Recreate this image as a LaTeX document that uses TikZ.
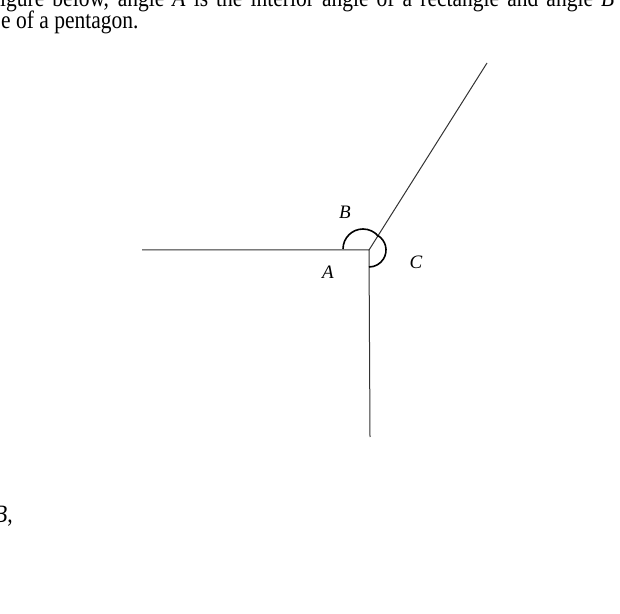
\documentclass[tikz,border=0pt]{standalone}
\usepackage{fontspec}
\setmainfont{Liberation Serif}
\usepackage{tikz}
\usetikzlibrary{calc}

\begin{document}
\begin{tikzpicture}[x=1pt, y=1pt]
        \useasboundingbox (0,0) rectangle (620,613);
        \clip (0,0) rectangle (620,613);

        \node[anchor=base west, inner sep=0pt, font=\fontsize{25}{28}\selectfont] (line1) at (0,606) {\scalebox{0.86}[1]{\makebox[714pt][s]{igure below, angle \textit{A} is the interior angle of a rectangle and angle \textit{B}}}};
        \node[anchor=base west, inner sep=0pt, font=\fontsize{25}{28}\selectfont] (line2) at (1,584) {\scalebox{0.86}[1]{e of a pentagon.}};
        \node[anchor=base west, inner sep=0pt, font=\fontsize{25}{28}\selectfont] (tail) at (-6,91) {\scalebox{0.86}[1]{\textit{B},}};

        \coordinate (vertex) at (369,363);
        \coordinate (left) at (142,363);
        \coordinate (down) at (370,176);
        \coordinate (up) at (487,550);

        \draw[line width=1pt, black!80] (left) -- (vertex) -- (down);
        \draw[line width=1pt, black!80] (vertex) -- (up);

        \draw[line width=1.6pt] (343,364) arc[start angle=180, end angle=38, radius=20];
        \draw[line width=1.6pt] ($(vertex)+(58:17)$) arc[start angle=58, end angle=-90, radius=17];

        \node[font=\fontsize{19}{22}\selectfont\itshape] (labB) at (345,401) {B};
        \node[font=\fontsize{19}{22}\selectfont\itshape] (labA) at (328,341) {A};
        \node[font=\fontsize{19}{22}\selectfont\itshape] (labC) at (416,351) {C};
    \end{tikzpicture}
\end{document}
